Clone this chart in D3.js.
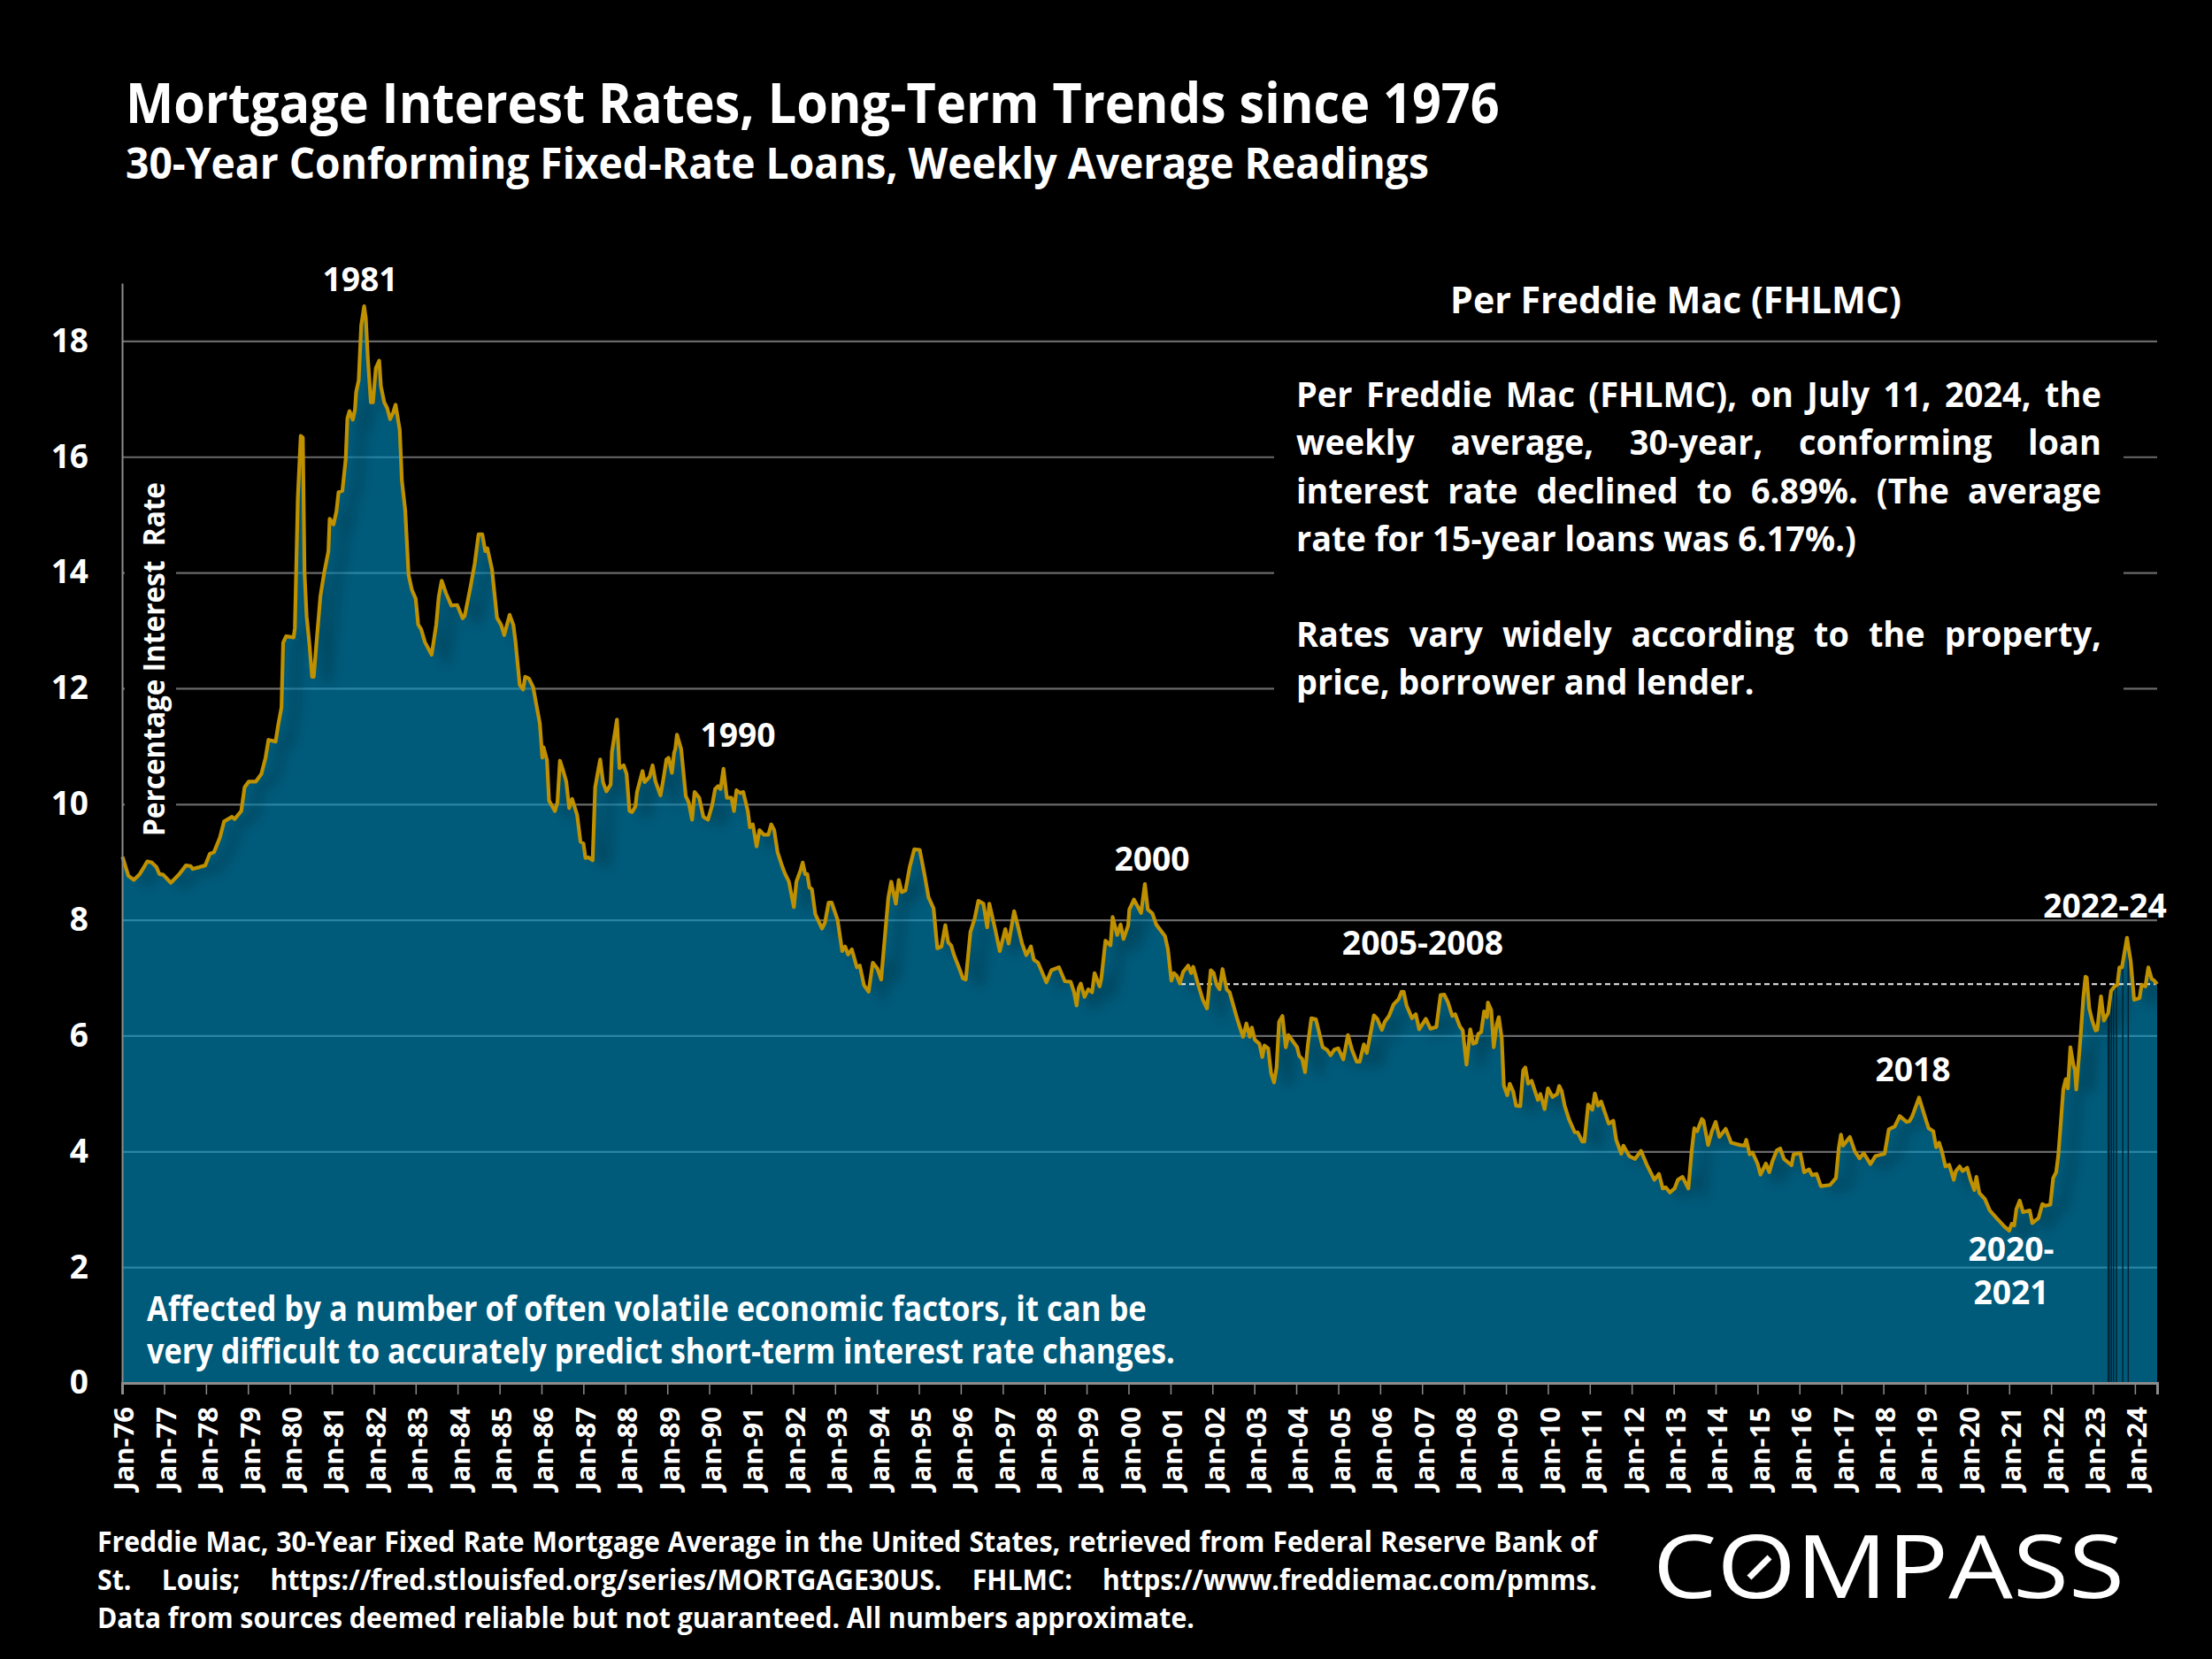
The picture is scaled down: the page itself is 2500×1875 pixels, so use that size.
<!DOCTYPE html>
<html>
<head>
<meta charset="utf-8">
<script src="https://cdn.jsdelivr.net/npm/d3@7"></script>
<style>
  html, body { margin: 0; background: #000; }
  text { font-family: "Open Sans", sans-serif; fill: #fff; white-space: pre; }
</style>
</head>
<body>
<script>
// weekly 30-year rate as [decimal year, percent]
const rates1970s = [[1976.01,9.09],[1976.15,8.76],[1976.28,8.69],[1976.42,8.79],[1976.52,8.91],[1976.6,9.01],[1976.71,8.99],[1976.82,8.91],[1976.89,8.79],[1976.98,8.78],[1977.16,8.64],[1977.36,8.79],[1977.52,8.94],[1977.63,8.93],[1977.68,8.88],[1977.84,8.91],[1977.98,8.94],[1978.09,9.14],[1978.19,9.17],[1978.33,9.42],[1978.43,9.7],[1978.62,9.78],[1978.68,9.74],[1978.84,9.88],[1978.92,10.29],[1979.02,10.39],[1979.19,10.39],[1979.32,10.52],[1979.42,10.8],[1979.49,11.11],[1979.66,11.08],[1979.72,11.36],[1979.8,11.67],[1979.84,12.79],[1979.91,12.9]];
const rates1980s = [[1980.09,12.88],[1980.12,13.04],[1980.19,15.28],[1980.26,16.36],[1980.31,16.33],[1980.35,14],[1980.4,13.25],[1980.47,12.74],[1980.53,12.2],[1980.57,12.2],[1980.63,12.74],[1980.73,13.6],[1980.82,14],[1980.92,14.37],[1980.95,14.93],[1981.04,14.83],[1981.11,15.06],[1981.16,15.39],[1981.25,15.41],[1981.33,15.95],[1981.37,16.66],[1981.42,16.79],[1981.5,16.64],[1981.55,16.81],[1981.58,17.12],[1981.64,17.32],[1981.7,18.27],[1981.77,18.6],[1981.81,18.39],[1981.86,17.68],[1981.93,16.94],[1981.98,16.94],[1982.05,17.53],[1982.13,17.66],[1982.17,17.22],[1982.25,16.94],[1982.32,16.84],[1982.39,16.65],[1982.46,16.76],[1982.52,16.9],[1982.62,16.46],[1982.67,15.59],[1982.75,15.08],[1982.83,13.96],[1982.91,13.7],[1983,13.55],[1983.06,13.1],[1983.13,13.02],[1983.22,12.8],[1983.38,12.58],[1983.49,13.1],[1983.55,13.58],[1983.62,13.86],[1983.72,13.65],[1983.85,13.43],[1983.99,13.44],[1984.12,13.21],[1984.17,13.25],[1984.31,13.76],[1984.41,14.16],[1984.5,14.66],[1984.59,14.66],[1984.66,14.37],[1984.71,14.42],[1984.82,14.06],[1984.9,13.5],[1984.94,13.22],[1985.04,13.09],[1985.11,12.92],[1985.24,13.27],[1985.33,13.09],[1985.38,12.8],[1985.48,12.06],[1985.56,11.98],[1985.61,12.2],[1985.7,12.17],[1985.8,12.02],[1985.96,11.39],[1986.02,10.8],[1986.05,10.98],[1986.13,10.76],[1986.18,10.06],[1986.32,9.88],[1986.38,10.03],[1986.44,10.75],[1986.52,10.57],[1986.59,10.39],[1986.66,9.93],[1986.73,10.09],[1986.85,9.81],[1986.93,9.35],[1987,9.32],[1987.05,9.07],[1987.12,9.08],[1987.22,9.03],[1987.28,10.29],[1987.33,10.49],[1987.4,10.77],[1987.47,10.37],[1987.55,10.22],[1987.65,10.34],[1987.68,10.9],[1987.8,11.46],[1987.86,10.62],[1987.96,10.67],[1988.03,10.52],[1988.1,9.88],[1988.16,9.86],[1988.24,9.96],[1988.28,10.21],[1988.41,10.57],[1988.46,10.38],[1988.58,10.47],[1988.65,10.67],[1988.72,10.39],[1988.84,10.15],[1988.91,10.44],[1988.98,10.77],[1989.03,10.8],[1989.11,10.54],[1989.16,10.88],[1989.19,10.95],[1989.23,11.2],[1989.33,10.95],[1989.44,10.14],[1989.51,10.03],[1989.59,9.73],[1989.65,10.21],[1989.76,10.11],[1989.86,9.78],[1989.97,9.73]];
const rates1990s = [[1990.07,9.98],[1990.14,10.26],[1990.21,10.31],[1990.27,10.26],[1990.34,10.61],[1990.42,10.11],[1990.53,10.11],[1990.59,9.88],[1990.65,10.24],[1990.74,10.19],[1990.81,10.21],[1990.92,9.88],[1990.97,9.6],[1991.04,9.65],[1991.13,9.27],[1991.2,9.55],[1991.3,9.47],[1991.41,9.47],[1991.48,9.65],[1991.55,9.55],[1991.63,9.17],[1991.72,8.97],[1991.8,8.81],[1991.9,8.66],[1992.02,8.22],[1992.08,8.66],[1992.18,8.86],[1992.23,8.99],[1992.29,8.79],[1992.34,8.79],[1992.39,8.56],[1992.45,8.53],[1992.53,8.1],[1992.69,7.85],[1992.76,7.95],[1992.85,8.3],[1992.92,8.3],[1993.06,8],[1993.17,7.46],[1993.24,7.54],[1993.31,7.4],[1993.4,7.49],[1993.52,7.18],[1993.59,7.21],[1993.69,6.87],[1993.8,6.76],[1993.9,7.26],[1994.01,7.16],[1994.1,6.97],[1994.15,7.39],[1994.27,8.38],[1994.34,8.66],[1994.45,8.28],[1994.52,8.69],[1994.59,8.48],[1994.68,8.51],[1994.78,8.91],[1994.89,9.22],[1995.02,9.21],[1995.14,8.76],[1995.23,8.39],[1995.35,8.2],[1995.44,7.51],[1995.54,7.54],[1995.63,7.91],[1995.7,7.61],[1995.77,7.56],[1995.84,7.39],[1995.98,7.13],[1996.05,6.99],[1996.12,6.97],[1996.23,7.79],[1996.33,8.02],[1996.42,8.33],[1996.54,8.28],[1996.63,7.87],[1996.68,8.28],[1996.82,7.84],[1996.93,7.46],[1997.06,7.84],[1997.14,7.59],[1997.27,8.15],[1997.35,7.92],[1997.46,7.59],[1997.56,7.39],[1997.67,7.54],[1997.74,7.31],[1997.84,7.26],[1998.04,6.92],[1998.16,7.13],[1998.34,7.18],[1998.48,6.94],[1998.62,6.93],[1998.7,6.75],[1998.76,6.52],[1998.81,6.82],[1998.86,6.9],[1998.95,6.67],[1999.04,6.8],[1999.13,6.75],[1999.19,7.08],[1999.31,6.85],[1999.35,6.98],[1999.45,7.64],[1999.57,7.56],[1999.62,8.05],[1999.73,7.74],[1999.81,7.92],[1999.88,7.67],[1999.99,7.9]];
const rates2000s = [[2000.02,8.18],[2000.13,8.35],[2000.3,8.12],[2000.39,8.62],[2000.46,8.18],[2000.57,8.11],[2000.66,7.92],[2000.87,7.72],[2000.94,7.49],[2001.02,6.95],[2001.08,7.08],[2001.15,7.03],[2001.22,6.9],[2001.3,7.1],[2001.42,7.21],[2001.49,7.08],[2001.54,7.19],[2001.64,6.93],[2001.77,6.62],[2001.87,6.47],[2001.96,7.13],[2002.03,7.08],[2002.1,6.88],[2002.17,6.8],[2002.24,7.15],[2002.34,6.8],[2002.41,6.75],[2002.59,6.29],[2002.73,5.98],[2002.81,6.21],[2002.89,5.98],[2002.94,6.14],[2003.01,5.93],[2003.12,5.86],[2003.19,5.63],[2003.24,5.83],[2003.33,5.78],[2003.4,5.35],[2003.47,5.19],[2003.53,5.45],[2003.59,6.24],[2003.67,6.34],[2003.75,5.8],[2003.81,6.01],[2003.89,5.93],[2004.02,5.8],[2004.07,5.65],[2004.14,5.6],[2004.21,5.37],[2004.28,5.86],[2004.36,6.3],[2004.47,6.28],[2004.56,6.01],[2004.63,5.8],[2004.74,5.75],[2004.82,5.66],[2004.91,5.76],[2005,5.78],[2005.12,5.59],[2005.23,6.01],[2005.33,5.75],[2005.44,5.55],[2005.51,5.55],[2005.61,5.85],[2005.68,5.7],[2005.85,6.35],[2005.93,6.29],[2006.04,6.1],[2006.11,6.24],[2006.21,6.34],[2006.32,6.54],[2006.44,6.63],[2006.51,6.76],[2006.56,6.76],[2006.63,6.52],[2006.76,6.3],[2006.85,6.37],[2006.93,6.11],[2007.09,6.29],[2007.2,6.12],[2007.34,6.15],[2007.44,6.7],[2007.53,6.71],[2007.62,6.57],[2007.72,6.34],[2007.79,6.37],[2007.9,6.16],[2007.97,6.09],[2008.06,5.5],[2008.15,6.11],[2008.22,5.86],[2008.29,5.88],[2008.34,6.03],[2008.41,6.06],[2008.48,6.42],[2008.55,6.32],[2008.57,6.57],[2008.65,6.44],[2008.71,5.8],[2008.78,6.19],[2008.83,6.32],[2008.9,5.96],[2008.95,5.14],[2009.03,4.97],[2009.09,5.17],[2009.17,5.04],[2009.24,4.79],[2009.34,4.78],[2009.41,5.4],[2009.46,5.45],[2009.53,5.17],[2009.61,5.22],[2009.76,4.89],[2009.82,4.99],[2009.92,4.73]];
const rates2010s = [[2010,5.09],[2010.11,4.94],[2010.22,4.99],[2010.27,5.13],[2010.33,5.04],[2010.4,4.79],[2010.5,4.56],[2010.64,4.33],[2010.71,4.33],[2010.82,4.17],[2010.87,4.17],[2010.96,4.81],[2011.06,4.72],[2011.12,5],[2011.2,4.79],[2011.27,4.86],[2011.45,4.48],[2011.56,4.53],[2011.63,4.2],[2011.75,3.96],[2011.8,4.1],[2011.94,3.92],[2012.08,3.87],[2012.22,4.01],[2012.36,3.77],[2012.54,3.51],[2012.65,3.61],[2012.74,3.36],[2012.81,3.38],[2012.91,3.29],[2013.02,3.36],[2013.1,3.51],[2013.21,3.56],[2013.35,3.36],[2013.42,3.95],[2013.49,4.4],[2013.56,4.35],[2013.67,4.56],[2013.71,4.53],[2013.82,4.11],[2013.91,4.35],[2014,4.51],[2014.09,4.25],[2014.24,4.39],[2014.37,4.15],[2014.58,4.11],[2014.69,4.1],[2014.73,4.2],[2014.81,3.95],[2014.88,3.98],[2015,3.79],[2015.07,3.6],[2015.2,3.79],[2015.28,3.64],[2015.35,3.82],[2015.46,4.02],[2015.54,4.05],[2015.63,3.87],[2015.81,3.76],[2015.86,3.95],[2016.02,3.97],[2016.11,3.64],[2016.23,3.69],[2016.3,3.59],[2016.41,3.61],[2016.51,3.4],[2016.73,3.42],[2016.87,3.54],[2016.94,4.07],[2016.99,4.29],[2017.04,4.1],[2017.2,4.25],[2017.32,4],[2017.43,3.88],[2017.53,3.97],[2017.69,3.78],[2017.81,3.92],[2018.03,3.96],[2018.13,4.38],[2018.27,4.43],[2018.39,4.61],[2018.55,4.51],[2018.62,4.52],[2018.69,4.61],[2018.85,4.93],[2019,4.58],[2019.08,4.4],[2019.19,4.35],[2019.26,4.07],[2019.33,4.15],[2019.4,3.99],[2019.48,3.74],[2019.57,3.77],[2019.68,3.51],[2019.73,3.66],[2019.82,3.74],[2019.89,3.66]];
const rates2020s = [[2020,3.72],[2020.08,3.51],[2020.17,3.33],[2020.22,3.56],[2020.29,3.28],[2020.42,3.18],[2020.54,2.98],[2020.7,2.85],[2020.89,2.7],[2021,2.63],[2021.06,2.75],[2021.12,2.72],[2021.17,3],[2021.25,3.15],[2021.33,2.95],[2021.49,2.98],[2021.55,2.76],[2021.7,2.85],[2021.79,3.09],[2021.86,3.06],[2021.98,3.08],[2022.05,3.54],[2022.12,3.64],[2022.17,3.92],[2022.23,4.48],[2022.29,5.07],[2022.35,5.25],[2022.4,5.09],[2022.46,5.8],[2022.53,5.5],[2022.57,5.4],[2022.6,5.07],[2022.7,5.96],[2022.77,6.67],[2022.82,7.02],[2022.85,7],[2022.91,6.47],[2022.98,6.26],[2023.06,6.09],[2023.1,6.1],[2023.19,6.68],[2023.26,6.26],[2023.36,6.39],[2023.43,6.77],[2023.51,6.85],[2023.58,6.88],[2023.63,7.18],[2023.69,7.18],[2023.81,7.69],[2023.9,7.28],[2023.98,6.62],[2024.11,6.65],[2024.16,6.88],[2024.25,6.85],[2024.32,7.18],[2024.4,6.98],[2024.46,6.95],[2024.53,6.89]];

const latestRate = 6.89;
const yTicks = [0, 2, 4, 6, 8, 10, 12, 14, 16, 18];
const tickYears = d3.range(1976, 2025);
// thin dark slivers in the area during 2023
const gapYears = [2023.36, 2023.39, 2023.44, 2023.49, 2023.56, 2023.71, 2023.84];

const callouts = [
  { label: "1981", cx: 407, cy: 316 },
  { label: "1990", cx: 834, cy: 831 },
  { label: "2000", cx: 1302, cy: 971 },
  { label: "2005-2008", cx: 1608, cy: 1066 },
  { label: "2018", cx: 2162, cy: 1209 },
  { label: "2020-", cx: 2273, cy: 1412 },
  { label: "2021", cx: 2273, cy: 1461 },
  { label: "2022-24", cx: 2379, cy: 1024 }
];

const series = [...rates1970s, ...rates1980s, ...rates1990s, ...rates2000s, ...rates2010s, ...rates2020s];

const toDate = yr => {
  const whole = Math.floor(yr);
  return new Date(Date.UTC(whole, 0, 1) + (yr - whole) * 365.25 * 864e5);
};

const plotLeft = 138, plotRight = 2438, plotTop = 320, plotBottom = 1563;

const x = d3.scaleUtc().domain([toDate(1976), toDate(2024.53)]).range([plotLeft, plotRight]);
const y = d3.scaleLinear().domain([0, 19]).range([plotBottom, plotTop]);

const svg = d3.select("body").append("svg")
  .attr("width", 2500)
  .attr("height", 1875)
  .style("display", "block")
  .style("background", "#000");

const defs = svg.append("defs");
defs.append("filter").attr("id", "soft")
  .attr("x", "-5%").attr("width", "110%")
  .append("feGaussianBlur").attr("stdDeviation", 7);

const line = d3.line().x(d => x(toDate(d[0]))).y(d => y(d[1]));
const area = d3.area().x(d => x(toDate(d[0]))).y0(y(0)).y1(d => y(d[1]));

defs.append("clipPath").attr("id", "under-curve")
  .append("path").attr("d", area(series));

// gridlines sit under the translucent area so they tint blue inside it
const grid = svg.append("g")
  .attr("transform", `translate(${plotLeft},0)`)
  .call(d3.axisLeft(y).tickValues(yTicks.slice(1)).tickSize(-(plotRight - plotLeft)).tickFormat(""));
grid.select(".domain").remove();
grid.selectAll("text").remove();
grid.selectAll("line").attr("stroke", "#6a6a6a").attr("stroke-width", 2.2);

// black panels behind the text block and the axis title
svg.append("rect").attr("x", 1440).attr("y", 400).attr("width", 960).attr("height", 400).attr("fill", "#000");
svg.append("rect").attr("x", 141).attr("y", 530).attr("width", 58).attr("height", 420).attr("fill", "#000");

svg.append("path")
  .attr("d", area(series))
  .attr("fill", "rgb(0,150,203)")
  .attr("fill-opacity", 0.6);

// soft shadow just inside the rising edges
svg.append("g").attr("clip-path", "url(#under-curve)")
  .append("path")
  .attr("d", line(series))
  .attr("transform", "translate(16,2)")
  .attr("fill", "none")
  .attr("stroke", "#000")
  .attr("stroke-opacity", 0.2)
  .attr("stroke-width", 9)
  .attr("filter", "url(#soft)");

const rateAt = yr => series[d3.bisector(d => d[0]).center(series, yr)][1];
svg.append("g").selectAll("line").data(gapYears).join("line")
  .attr("x1", d => x(toDate(d)))
  .attr("x2", d => x(toDate(d)))
  .attr("y1", d => y(rateAt(d)))
  .attr("y2", y(0))
  .attr("stroke", "#03202e")
  .attr("stroke-width", 1.4);

svg.append("line")
  .attr("x1", 1334).attr("x2", x(toDate(2024.5)))
  .attr("y1", y(latestRate)).attr("y2", y(latestRate))
  .attr("stroke", "#e8e8e8")
  .attr("stroke-width", 2)
  .attr("stroke-dasharray", "6 4");

svg.append("path")
  .attr("d", line(series))
  .attr("fill", "none")
  .attr("stroke", "#BF9000")
  .attr("stroke-width", 4.2)
  .attr("stroke-linejoin", "round");

// axes
const xAxis = svg.append("g")
  .attr("transform", `translate(0,${plotBottom})`)
  .call(d3.axisBottom(x)
    .tickValues(tickYears.map(toDate))
    .tickSize(13)
    .tickFormat(d3.utcFormat("Jan-%y")));
xAxis.select(".domain").attr("stroke", "#8c8c8c").attr("stroke-width", 3);
xAxis.selectAll("line").attr("stroke", "#8c8c8c").attr("stroke-width", 1.5);
xAxis.selectAll("text")
  .attr("transform", "rotate(-90)")
  .attr("x", -27).attr("y", 2).attr("dy", ".35em")
  .attr("text-anchor", "end")
  .attr("font-size", 31)
  .attr("font-weight", 700);

const yAxis = svg.append("g")
  .attr("transform", `translate(${plotLeft},0)`)
  .call(d3.axisLeft(y).tickValues(yTicks).tickSize(0).tickPadding(38).tickFormat(d3.format("d")));
yAxis.select(".domain").attr("stroke", "#8c8c8c").attr("stroke-width", 2);
yAxis.selectAll("text").attr("font-size", 37).attr("font-weight", 700);

// place one line of text; width fits it, justify stretches only the spaces
function put(str, px, py, size, o = {}) {
  const t = svg.append("text")
    .attr("font-size", size)
    .attr("font-weight", o.weight || 700)
    .attr("text-anchor", o.anchor || "start")
    .text(str);
  const len = t.node().getComputedTextLength();
  let squeeze = o.squeeze || 1;
  if (o.width && !o.justify) squeeze = o.width / len;
  if (o.width && o.justify) {
    const gaps = str.split(" ").length - 1;
    t.style("word-spacing", `${(o.width / squeeze - len) / gaps}px`);
  }
  t.attr("transform", `translate(${px},${py}) scale(${squeeze},1)`);
  return squeeze;
}

put("Mortgage Interest Rates, Long-Term Trends since 1976", 142, 139, 62, { width: 1553 });
put("30-Year Conforming Fixed-Rate Loans, Weekly Average Readings", 142, 202, 49, { width: 1473 });

callouts.forEach(c => put(c.label, c.cx, c.cy + 13, 38, { anchor: "middle", squeeze: 0.98 }));

put("Per Freddie Mac (FHLMC)", 1894, 354, 42, { anchor: "middle", width: 510 });

const bodyFit = put("rate for 15-year loans was 6.17%.)", 1465, 623, 40, { width: 633 });
put("Per Freddie Mac (FHLMC), on July 11, 2024, the", 1465, 460, 40, { width: 910, justify: true, squeeze: bodyFit });
put("weekly average, 30-year, conforming loan", 1465, 514, 40, { width: 910, justify: true, squeeze: bodyFit });
put("interest rate declined to 6.89%. (The average", 1465, 569, 40, { width: 910, justify: true, squeeze: bodyFit });
put("Rates vary widely according to the property,", 1465, 731, 40, { width: 910, justify: true, squeeze: bodyFit });
put("price, borrower and lender.", 1465, 785, 40, { squeeze: bodyFit });

put("Affected by a number of often volatile economic factors, it can be", 166, 1493, 40, { width: 1130 });
put("very difficult to accurately predict short-term interest rate changes.", 166, 1541, 40, { width: 1162 });

svg.append("text")
  .attr("transform", "translate(186,745) rotate(-90)")
  .attr("text-anchor", "middle")
  .attr("font-size", 34)
  .attr("font-weight", 700)
  .attr("textLength", 400)
  .attr("lengthAdjust", "spacingAndGlyphs")
  .text("Percentage Interest  Rate");

const footFit = put("Data from sources deemed reliable but not guaranteed. All numbers approximate.", 110, 1840, 32, { width: 1240 });
put("Freddie Mac, 30-Year Fixed Rate Mortgage Average in the United States, retrieved from Federal Reserve Bank of", 110, 1754, 32, { width: 1695, justify: true, squeeze: footFit });
put("St. Louis; https://fred.stlouisfed.org/series/MORTGAGE30US. FHLMC: https://www.freddiemac.com/pmms.", 110, 1797, 32, { width: 1695, justify: true, squeeze: footFit });

// wordmark with the slash inside the O
put("COMPASS", 1868, 1806, 98, { width: 533, weight: 500 });
svg.append("line")
  .attr("x1", 1977).attr("y1", 1783).attr("x2", 2000).attr("y2", 1760)
  .attr("stroke", "#fff").attr("stroke-width", 7);
</script>
</body>
</html>
